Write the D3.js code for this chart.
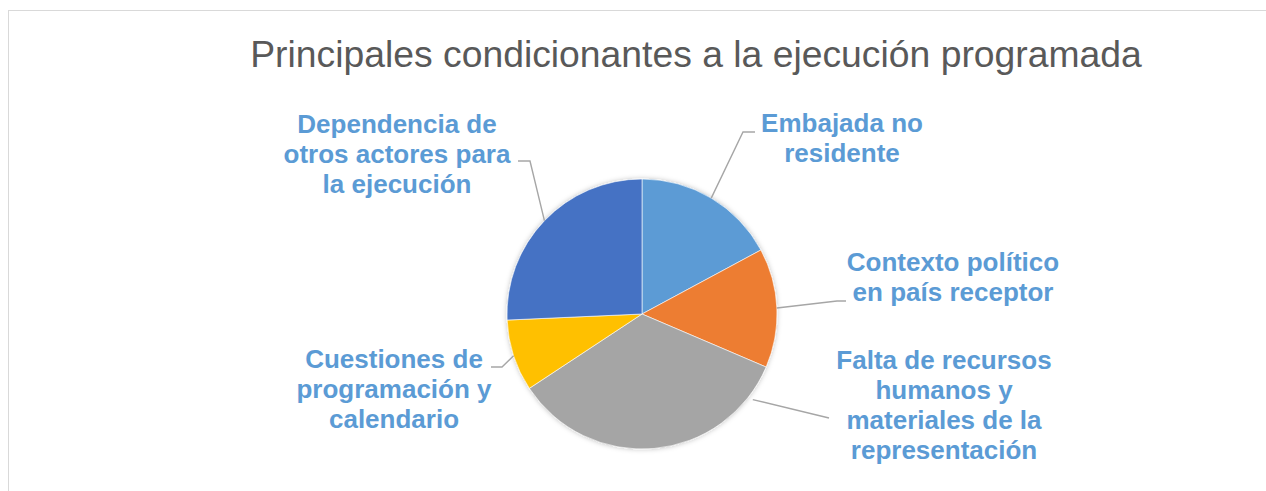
<!DOCTYPE html>
<html>
<head>
<meta charset="utf-8">
<script src="https://cdn.jsdelivr.net/npm/d3@7"></script>
<style>
  body { margin: 0; background: #fff; }
  svg { display: block; font-family: "Liberation Sans", Arial, sans-serif; }
</style>
</head>
<body>
<div id="chart"></div>
<script>
(function() {
  var categories = [
    "Embajada no residente",
    "Contexto político en país receptor",
    "Falta de recursos humanos y materiales de la representación",
    "Cuestiones de programación y calendario",
    "Dependencia de otros actores para la ejecución"
  ];
  var values = [12, 10, 24, 6, 18];
  var labelLines = [
    ["Embajada no", "residente"],
    ["Contexto político", "en país receptor"],
    ["Falta de recursos", "humanos y", "materiales de la", "representación"],
    ["Cuestiones de", "programación y", "calendario"],
    ["Dependencia de", "otros actores para", "la ejecución"]
  ];
  var colors = ["#5B9BD5", "#ED7D31", "#A5A5A5", "#FFC000", "#4472C4"];
  var title = "Principales condicionantes a la ejecución programada";

  var width = 1266,
      height = 491,
      cx = 642,
      cy = 314,
      radius = 135;

  // label placement (layout only)
  var labelLayout = [
    { x: 842, y: 132, pts: [[743, 132], [755, 132]] },
    { x: 953, y: 271, pts: [[837, 301], [846, 301]] },
    { x: 944, y: 369, pts: [[829, 418]], angle: 127.7, r: 140 },
    { x: 394, y: 368, pts: [[502, 367], [491, 367]] },
    { x: 397, y: 133, pts: [[530, 161], [518, 161]] }
  ];

  var svg = d3.select("#chart").append("svg")
      .attr("width", width)
      .attr("height", height);

  var defs = svg.append("defs");
  defs.append("filter")
      .attr("id", "shadow")
      .attr("x", "-20%").attr("y", "-20%")
      .attr("width", "140%").attr("height", "140%")
    .append("feDropShadow")
      .attr("dx", 0).attr("dy", 0)
      .attr("stdDeviation", 2.5)
      .attr("flood-color", "#000")
      .attr("flood-opacity", 0.25);

  svg.append("rect")
      .attr("x", 8.5)
      .attr("y", 10.5)
      .attr("width", width)
      .attr("height", height)
      .attr("fill", "none")
      .attr("stroke", "#D9D9D9")
      .attr("stroke-width", 1);

  svg.append("text")
      .attr("x", 696)
      .attr("y", 67)
      .attr("text-anchor", "middle")
      .attr("font-size", "37.3px")
      .attr("fill", "#595959")
      .text(title);

  var pie = d3.pie()
      .sort(null)
      .value(d => d);

  var arc = d3.arc()
      .innerRadius(0)
      .outerRadius(radius);

  var arcs = pie(values);

  var g = svg.append("g")
      .attr("transform", "translate(" + cx + "," + cy + ")");

  g.append("g")
      .attr("filter", "url(#shadow)")
    .selectAll("path")
      .data(arcs)
    .enter().append("path")
      .attr("d", arc)
      .attr("fill", (d, i) => colors[i])
      .attr("stroke", "#fff")
      .attr("stroke-width", 0.6);

  // leader lines
  g.append("g")
    .selectAll("path")
      .data(arcs)
    .enter().append("path")
      .attr("fill", "none")
      .attr("stroke", "#A6A6A6")
      .attr("stroke-width", 1.4)
      .attr("d", (d, i) => {
        var l = labelLayout[i];
        var a = l.angle != null ? l.angle * Math.PI / 180 : (d.startAngle + d.endAngle) / 2;
        var r = l.r || radius;
        var p = [[r * Math.sin(a), -r * Math.cos(a)]];
        l.pts.forEach(q => p.push([q[0] - cx, q[1] - cy]));
        return d3.line()(p);
      });

  // labels
  var labels = svg.append("g")
    .selectAll("text")
      .data(arcs)
    .enter().append("text")
      .attr("text-anchor", "middle")
      .attr("font-size", "26px")
      .attr("font-weight", "bold")
      .attr("fill", "#5B9BD5")
      .attr("x", (d, i) => labelLayout[i].x)
      .attr("y", (d, i) => labelLayout[i].y);

  labels.selectAll("tspan")
      .data((d, i) => labelLines[i].map(t => ({ t: t, i: i })))
    .enter().append("tspan")
      .attr("x", d => labelLayout[d.i].x)
      .attr("dy", (d, j) => j === 0 ? 0 : 30)
      .text(d => d.t);
})();
</script>
</body>
</html>
